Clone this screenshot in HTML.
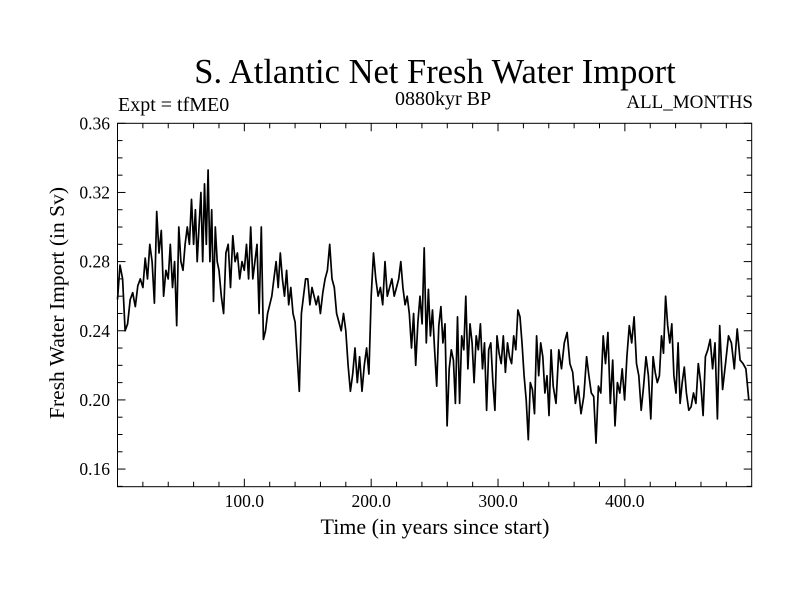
<!DOCTYPE html>
<html><head><meta charset="utf-8"><style>
body{margin:0;background:#fff;}
svg text{font-family:"Liberation Serif",serif;fill:#000;}
</style></head><body>
<svg id="chart" width="800" height="600">
<text x="435" y="83" font-size="34.5" text-anchor="middle">S. Atlantic Net Fresh Water Import</text>
<text x="118" y="111" font-size="20">Expt = tfME0</text>
<text x="443" y="105" font-size="20" text-anchor="middle">0880kyr BP</text>
<text x="753" y="108" font-size="19" text-anchor="end">ALL_MONTHS</text>
<text x="435" y="534" font-size="22" text-anchor="middle">Time (in years since start)</text>
<text transform="translate(64,303) rotate(-90)" font-size="21.5" text-anchor="middle">Fresh Water Import (in Sv)</text>
<g id="axes"></g>
<path id="series" fill="none" stroke="#000" stroke-width="1.7" stroke-linejoin="round"></path>
<rect x="117.5" y="123.3" width="634.2" height="363.4" fill="none" stroke="#000" stroke-width="1"></rect>
</svg>
<script>
const xTicks = [100,200,300,400];
const xTickLabels = ["100.0","200.0","300.0","400.0"];
const yTicks = [0.16,0.20,0.24,0.28,0.32,0.36];
const yTickLabels = ["0.16","0.20","0.24","0.28","0.32","0.36"];
const segStart = [0,20,40,60,80,100,120,140,160,180,200,220,238.5,264.8,291,317.3,343.5,369.8,396,422.3,448.5,474.8];
const segValues = [
[0.258,0.278,0.27,0.24,0.244,0.258,0.262,0.254,0.266,0.27],
[0.265,0.282,0.27,0.29,0.28,0.256,0.309,0.285,0.298,0.26,0.275],
[0.27,0.29,0.265,0.28,0.243,0.3,0.28,0.275,0.29,0.3,0.29,0.316],
[0.29,0.31,0.28,0.3,0.32,0.28,0.325,0.29,0.333,0.28,0.31,0.257,0.3,0.28],
[0.275,0.26,0.25,0.285,0.29,0.265,0.295,0.28,0.285,0.27,0.28],
[0.275,0.29,0.27,0.3,0.27,0.28,0.29,0.25,0.3,0.235,0.24,0.25],
[0.255,0.26,0.27,0.28,0.265,0.285,0.27,0.26,0.275,0.255,0.265,0.25],
[0.245,0.225,0.205,0.25,0.26,0.27,0.27,0.255,0.265,0.26,0.255,0.26],
[0.25,0.262,0.27,0.275,0.29,0.27,0.265,0.25,0.245,0.24,0.25],
[0.24,0.22,0.205,0.215,0.23,0.21,0.225,0.205,0.22,0.23,0.215],
[0.26,0.285,0.27,0.26,0.265,0.255,0.28,0.26,0.265,0.27,0.26],
[0.265,0.27,0.28,0.265,0.255,0.26,0.25,0.23,0.25,0.22,0.245],
[0.260,0.244,0.288,0.233,0.264,0.237,0.252,0.229,0.208,0.243,0.254,0.233,0.244,0.185,0.218,0.229],
[0.223,0.198,0.248,0.198,0.237,0.229,0.260,0.218,0.244,0.233,0.210,0.237,0.229,0.244,0.218,0.233],
[0.194,0.229,0.233,0.210,0.194,0.237,0.227,0.221,0.237,0.216,0.233,0.225,0.221,0.237,0.229,0.252],
[0.248,0.233,0.214,0.200,0.177,0.210,0.206,0.192,0.237,0.214,0.233,0.225,0.204,0.214,0.191,0.229],
[0.208,0.198,0.229,0.218,0.233,0.239,0.221,0.216,0.198,0.208,0.192,0.202],
[0.225,0.214,0.204,0.202,0.175,0.208,0.204,0.237,0.221,0.239,0.198,0.223,0.185,0.210],
[0.204,0.218,0.200,0.225,0.243,0.233,0.248,0.221,0.214,0.194,0.208,0.225,0.214,0.189],
[0.225,0.216,0.210,0.214,0.237,0.227,0.260,0.243,0.233,0.244,0.214,0.204,0.233,0.198,0.210,0.219],
[0.204,0.194,0.196,0.204,0.198,0.221,0.210,0.191,0.225,0.229,0.235,0.218,0.233,0.189],
[0.243,0.206,0.221,0.237,0.233,0.218,0.241,0.223,0.221,0.218,0.200]
];
const X0=117.5,X1=751.7,Y0=486.7,Y1=123.3,XMIN=0,XMAX=500,YMIN=0.1498,YMAX=0.36;
function sx(v){return X0+(v-XMIN)/(XMAX-XMIN)*(X1-X0);}
function sy(v){return Y0-(v-YMIN)/(YMAX-YMIN)*(Y0-Y1);}
const NS="http://www.w3.org/2000/svg";
const axes=document.getElementById('axes');
function line(x1,y1,x2,y2,name){const l=document.createElementNS(NS,'line');l.setAttribute('x1',x1);l.setAttribute('y1',y1);l.setAttribute('x2',x2);l.setAttribute('y2',y2);l.setAttribute('stroke','#000');l.setAttribute('stroke-width','1');


axes.appendChild(l);}
function text(x,y,s,anchor,name){const t=document.createElementNS(NS,'text');t.setAttribute('x',x);t.setAttribute('y',y);t.setAttribute('font-size','17.5');t.setAttribute('text-anchor',anchor);t.textContent=s;


axes.appendChild(t);}
for(let v=20;v<500;v+=20){const x=sx(v);const major=v%100===0;const L=major?8:5;line(x,Y0,x,Y0-L,'x-tick');line(x,Y1,x,Y1+L,'x-tick-top');}
for(let k=15;k<=36;k++){const v=k/100;const y=sy(v);const L=(k%4===0)?8:5;line(X0,y,X0+L,y,'y-tick');line(X1,y,X1-L,y,'y-tick-right');}
xTicks.forEach((v,i)=>text(sx(v),507,xTickLabels[i],'middle','x-tick-label'));
yTicks.forEach((v,i)=>text(110,sy(v)+6,yTickLabels[i],'end','y-tick-label'));
let d='';
segValues.forEach((vals,s)=>{const a=segStart[s],b=s+1<segStart.length?segStart[s+1]:500;const n=vals.length;
vals.forEach((v,k)=>{const yr=a+k*(b-a)/n;d+=(d?'L':'M')+sx(yr).toFixed(1)+','+sy(v).toFixed(1);});});
document.getElementById('series').setAttribute('d',d);
</script>
</body></html>
